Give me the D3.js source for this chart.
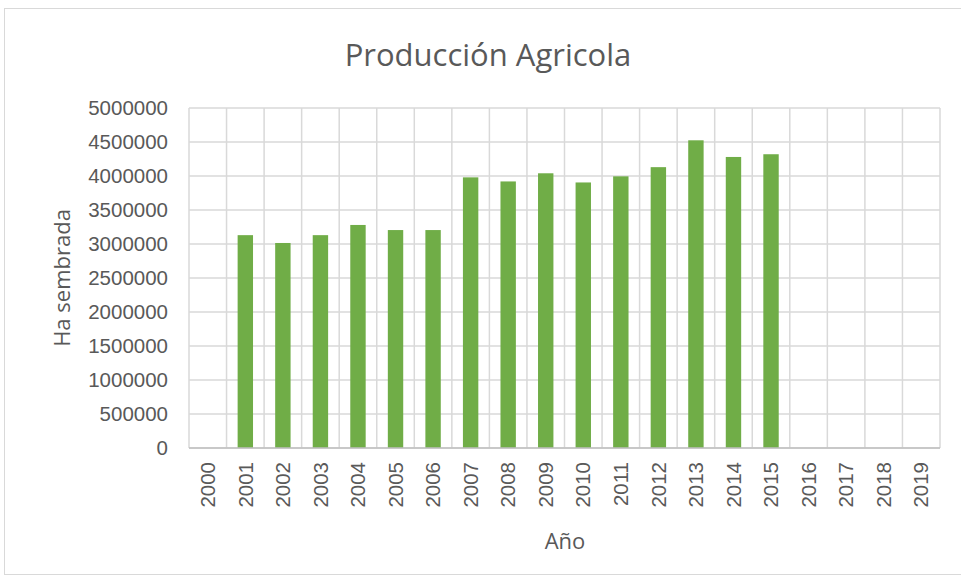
<!DOCTYPE html>
<html>
<head>
<meta charset="utf-8">
<script src="https://cdn.jsdelivr.net/npm/d3@7"></script>
<style>
  body { margin: 0; background: #fff; }
  svg { display: block; font-family: "Open Sans", "Noto Sans", sans-serif; }
</style>
</head>
<body>
<svg id="chart" width="961" height="579"></svg>
<script>
// años y hectáreas sembradas
const years = ["2000","2001","2002","2003","2004","2005","2006","2007","2008","2009",
               "2010","2011","2012","2013","2014","2015","2016","2017","2018","2019"];
const hectares = [0, 3130000, 3015000, 3130000, 3280000, 3205000, 3205000, 3980000, 3920000, 4040000,
                  3905000, 3995000, 4130000, 4525000, 4280000, 4320000, 0, 0, 0, 0];
const yTicks = [0, 500000, 1000000, 1500000, 2000000, 2500000, 3000000, 3500000, 4000000, 4500000, 5000000];

const data = years.map((y, i) => ({ year: y, value: hectares[i] }));

const svg = d3.select("#chart");
const margin = { top: 108, right: 21, bottom: 131, left: 189 };
const width = 961 - margin.left - margin.right;
const height = 579 - margin.top - margin.bottom;

// marco del gráfico
svg.append("rect")
    .attr("x", 4.5).attr("y", 8.5)
    .attr("width", 970).attr("height", 566)
    .attr("fill", "#fff")
    .attr("stroke", "#d9d9d9");

svg.append("text")
    .attr("x", 488).attr("y", 66)
    .attr("text-anchor", "middle")
    .style("font-size", "31px")
    .style("fill", "#595959")
    .text("Producción Agricola");

const g = svg.append("g").attr("transform", `translate(${margin.left},${margin.top})`);

const x = d3.scaleBand().domain(years).range([0, width]).paddingInner(0.59).paddingOuter(0.295);
const xGrid = d3.scaleBand().domain(years).range([0, width]);
const y = d3.scaleLinear().domain([0, 5000000]).range([height, 0]);

// líneas de cuadrícula
g.append("g").selectAll("line.h")
    .data(yTicks)
    .enter().append("line")
    .attr("x1", 0).attr("x2", width)
    .attr("y1", d => y(d)).attr("y2", d => y(d))
    .attr("stroke", "#d9d9d9").attr("stroke-width", 1.5);

g.append("g").selectAll("line.v")
    .data(years.concat(["end"]))
    .enter().append("line")
    .attr("x1", (d, i) => i * xGrid.step()).attr("x2", (d, i) => i * xGrid.step())
    .attr("y1", 0).attr("y2", height)
    .attr("stroke", "#d9d9d9").attr("stroke-width", 1.5);

g.selectAll("rect.bar")
    .data(data)
    .enter().append("rect")
    .attr("class", "bar")
    .attr("x", d => x(d.year))
    .attr("y", d => y(d.value))
    .attr("width", x.bandwidth())
    .attr("height", d => height - y(d.value))
    .attr("fill", "#70ad47");

// eje inferior
g.append("line")
    .attr("x1", 0).attr("x2", width)
    .attr("y1", height).attr("y2", height)
    .attr("stroke", "#bfbfbf").attr("stroke-width", 1.5);

const yAxis = g.append("g")
    .call(d3.axisLeft(y).tickValues(yTicks).tickSize(0).tickPadding(21).tickFormat(d3.format("d")));
yAxis.select(".domain").remove();
yAxis.selectAll("text").style("font-size", "20.5px").style("fill", "#595959").style("font-family", "inherit");

const xAxis = g.append("g")
    .attr("transform", `translate(0,${height})`)
    .call(d3.axisBottom(xGrid).tickSize(0));
xAxis.select(".domain").remove();
xAxis.selectAll("text")
    .style("font-size", "20.5px").style("fill", "#595959").style("font-family", "inherit")
    .style("text-anchor", "end")
    .attr("dx", "-14px").attr("dy", "0.35em")
    .attr("transform", "rotate(-90)")
    .attr("x", 0).attr("y", 0);

svg.append("text")
    .attr("x", 565).attr("y", 549)
    .attr("text-anchor", "middle")
    .style("font-size", "22px").style("fill", "#595959")
    .text("Año");

svg.append("text")
    .attr("transform", "translate(70,278) rotate(-90)")
    .attr("text-anchor", "middle")
    .style("font-size", "22px").style("fill", "#595959")
    .text("Ha sembrada");
</script>
</body>
</html>
